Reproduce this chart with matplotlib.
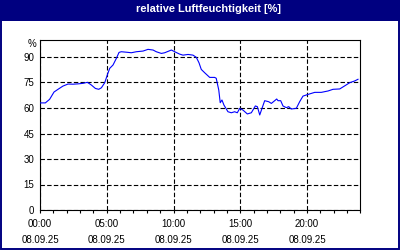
import matplotlib.pyplot as plt
from matplotlib.patches import Rectangle
from matplotlib.ticker import MultipleLocator

plt.rcParams["font.family"] = ["Liberation Sans", "DejaVu Sans"]

# relative humidity over the day (hours since 00:00, percent)
hours = [0.0, 0.4, 0.72, 1.05, 1.35, 1.72, 2.1, 2.47, 2.85, 3.22, 3.55,
         3.85, 4.15, 4.4, 4.6, 4.85, 5.04, 5.22, 5.47, 5.72, 5.92, 6.09,
         6.5, 6.84, 7.22, 7.72, 8.09, 8.47, 8.71, 9.09, 9.34, 9.59, 9.84,
         10.09, 10.46, 10.71, 11.09, 11.46, 11.71, 11.91, 12.08, 12.34,
         12.71, 13.08, 13.2, 13.39, 13.5, 13.63, 13.78, 14.08, 14.33, 14.58,
         14.78, 14.96, 15.2, 15.53, 15.83, 16.13, 16.28, 16.46, 16.63, 16.83,
         17.13, 17.33, 17.58, 17.73, 17.83, 18.03, 18.2, 18.45, 18.63, 18.82,
         19.2, 19.45, 19.7, 20.08, 20.58, 21.07, 21.57, 21.95, 22.45, 22.82,
         23.2, 23.57, 23.82]
humidity = [63.0, 63.0, 65.1, 69.4, 71.0, 72.9, 74.1, 74.0, 74.2, 74.5, 75.1,
            73.5, 71.5, 71.0, 71.9, 74.9, 79.4, 83.3, 85.3, 89.2, 92.7, 93.1,
            92.8, 92.5, 93.1, 93.5, 94.5, 94.1, 93.1, 92.1, 92.5, 93.3, 94.1,
            93.1, 91.7, 91.1, 91.5, 91.1, 89.8, 86.6, 82.7, 80.7,
            78.0, 78.0, 77.5, 70.6, 63.1, 64.7, 61.7, 57.8, 57.2, 57.8,
            57.2, 59.8, 58.8, 56.5, 57.2, 61.2, 60.8, 55.9, 59.8, 64.3,
            63.7, 62.7, 64.3, 65.3, 64.3, 64.3, 61.2, 60.2, 60.8, 59.4,
            59.8, 63.7, 67.0, 68.0, 69.2, 69.2, 70.0, 71.0, 71.2, 73.0,
            74.9, 75.9, 76.9]

title = "relative Luftfeuchtigkeit [%]"
x_ticks = [0, 5, 10, 15, 20]
x_labels = ["00:00\n08.09.25", "05:00\n08.09.25", "10:00\n08.09.25",
            "15:00\n08.09.25", "20:00\n08.09.25"]
y_ticks = [0, 15, 30, 45, 60, 75, 90]

navy = "#000080"
fs = 7

fig = plt.figure(figsize=(4, 2.5), dpi=100, facecolor="white")

# title bar and frame
fig.patches.append(Rectangle((0, 0.918), 1, 0.082, transform=fig.transFigure,
                             facecolor=navy, edgecolor="none", zorder=0))
fig.patches.append(Rectangle((0.0025, 0.004), 0.995, 0.99, transform=fig.transFigure,
                             facecolor="none", edgecolor=navy, linewidth=1.4, zorder=1))
fig.text(0.522, 0.962, title, color="white", fontsize=7.9, fontweight="bold",
         ha="center", va="center")

ax = fig.add_axes([0.1, 0.16, 0.801, 0.68])
ax.plot(hours, humidity, color="#0000FF", lw=0.8, zorder=3)

ax.set_xlim(0, 24)
ax.set_ylim(0, 100)
ax.set_xticks(x_ticks)
ax.set_xticklabels(x_labels, fontsize=fs, linespacing=1.75)
ax.xaxis.set_minor_locator(MultipleLocator(1))
ax.set_yticks(y_ticks)
ax.set_yticklabels([str(v) for v in y_ticks], fontsize=fs)

ax.tick_params(axis="x", which="both", direction="out", length=2.5, width=0.8, pad=4)
ax.tick_params(axis="y", which="both", length=0, pad=4)
ax.grid(True, which="major", color="black", lw=0.8, linestyle=(0, (4, 2)), zorder=1)

for sp in ax.spines.values():
    sp.set_color("black")
    sp.set_linewidth(0.8)

fig.text(0.092, 0.823, "%", fontsize=fs, ha="right", va="center")

fig.savefig("out.png", dpi=100, facecolor="white")
